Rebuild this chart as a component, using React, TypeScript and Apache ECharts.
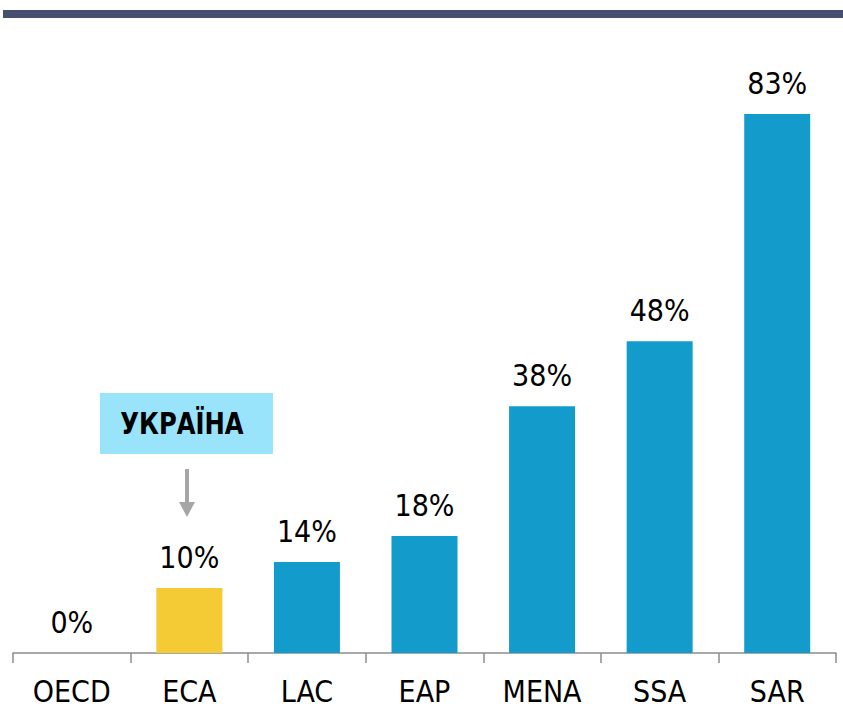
import React, { useEffect, useRef } from "react";
import * as echarts from "echarts";

const categories = ["OECD", "ECA", "LAC", "EAP", "MENA", "SSA", "SAR"];
const values = [0, 10, 14, 18, 38, 48, 83];
const highlightCategory = "ECA";
const calloutText = "УКРАЇНА";

const FONT = "'DejaVu Sans Condensed', 'Liberation Sans Narrow', 'Arial Narrow', 'Liberation Sans', Arial, sans-serif";
const BLUE = "#139ccb";
const YELLOW = "#f4cb35";

export default function App() {
  const ref = useRef<HTMLDivElement>(null);
  useEffect(() => {
    if (!ref.current) return;
    const chart = echarts.init(ref.current, null, { renderer: "svg" });
    chart.setOption({
      animation: false,
      backgroundColor: "#ffffff",
      grid: { left: 13, right: 7, top: 114, bottom: 56, containLabel: false },
      xAxis: {
        type: "category",
        data: categories,
        axisLine: { show: true, lineStyle: { color: "#8c8c8c", width: 1.5 } },
        axisTick: { show: true, interval: 0, alignWithLabel: false, length: 10, lineStyle: { color: "#8c8c8c", width: 1.5 } },
        axisLabel: { color: "#000", fontSize: 30, fontFamily: FONT, margin: 23, interval: 0 },
      },
      yAxis: {
        type: "value",
        min: 0,
        max: 83,
        show: false,
        splitLine: { show: false },
      },
      series: [
        {
          type: "bar",
          barWidth: 66,
          data: values.map((v, i) => ({
            value: v,
            itemStyle: { color: categories[i] === highlightCategory ? YELLOW : BLUE },
          })),
          label: {
            show: true,
            position: "top",
            distance: 16,
            formatter: (p: any) => p.value + "%",
            color: "#000",
            fontSize: 30,
            fontFamily: FONT,
          },
        },
      ],
      graphic: [
        { type: "rect", shape: { x: 3, y: 10, width: 840, height: 8 }, style: { fill: "#454f70" } },
        { type: "rect", shape: { x: 100, y: 393, width: 173, height: 61 }, style: { fill: "#99e3fb" } },
        {
          type: "text",
          x: 182,
          y: 424,
          scaleX: 0.9,
          style: {
            text: calloutText,
            font: "bold 30px " + FONT,
            fill: "#000",
            align: "center",
            verticalAlign: "middle",
          },
        },
        { type: "line", shape: { x1: 187, y1: 469, x2: 187, y2: 503 }, style: { stroke: "#a6a6a6", lineWidth: 4 } },
        { type: "polygon", shape: { points: [[179, 502], [195, 502], [187, 517]] }, style: { fill: "#a6a6a6" } },
      ],
    });
    return () => chart.dispose();
  }, []);
  return <div ref={ref} style={{ position: "fixed", left: 0, top: 0, width: 843, height: 709 }} />;
}
